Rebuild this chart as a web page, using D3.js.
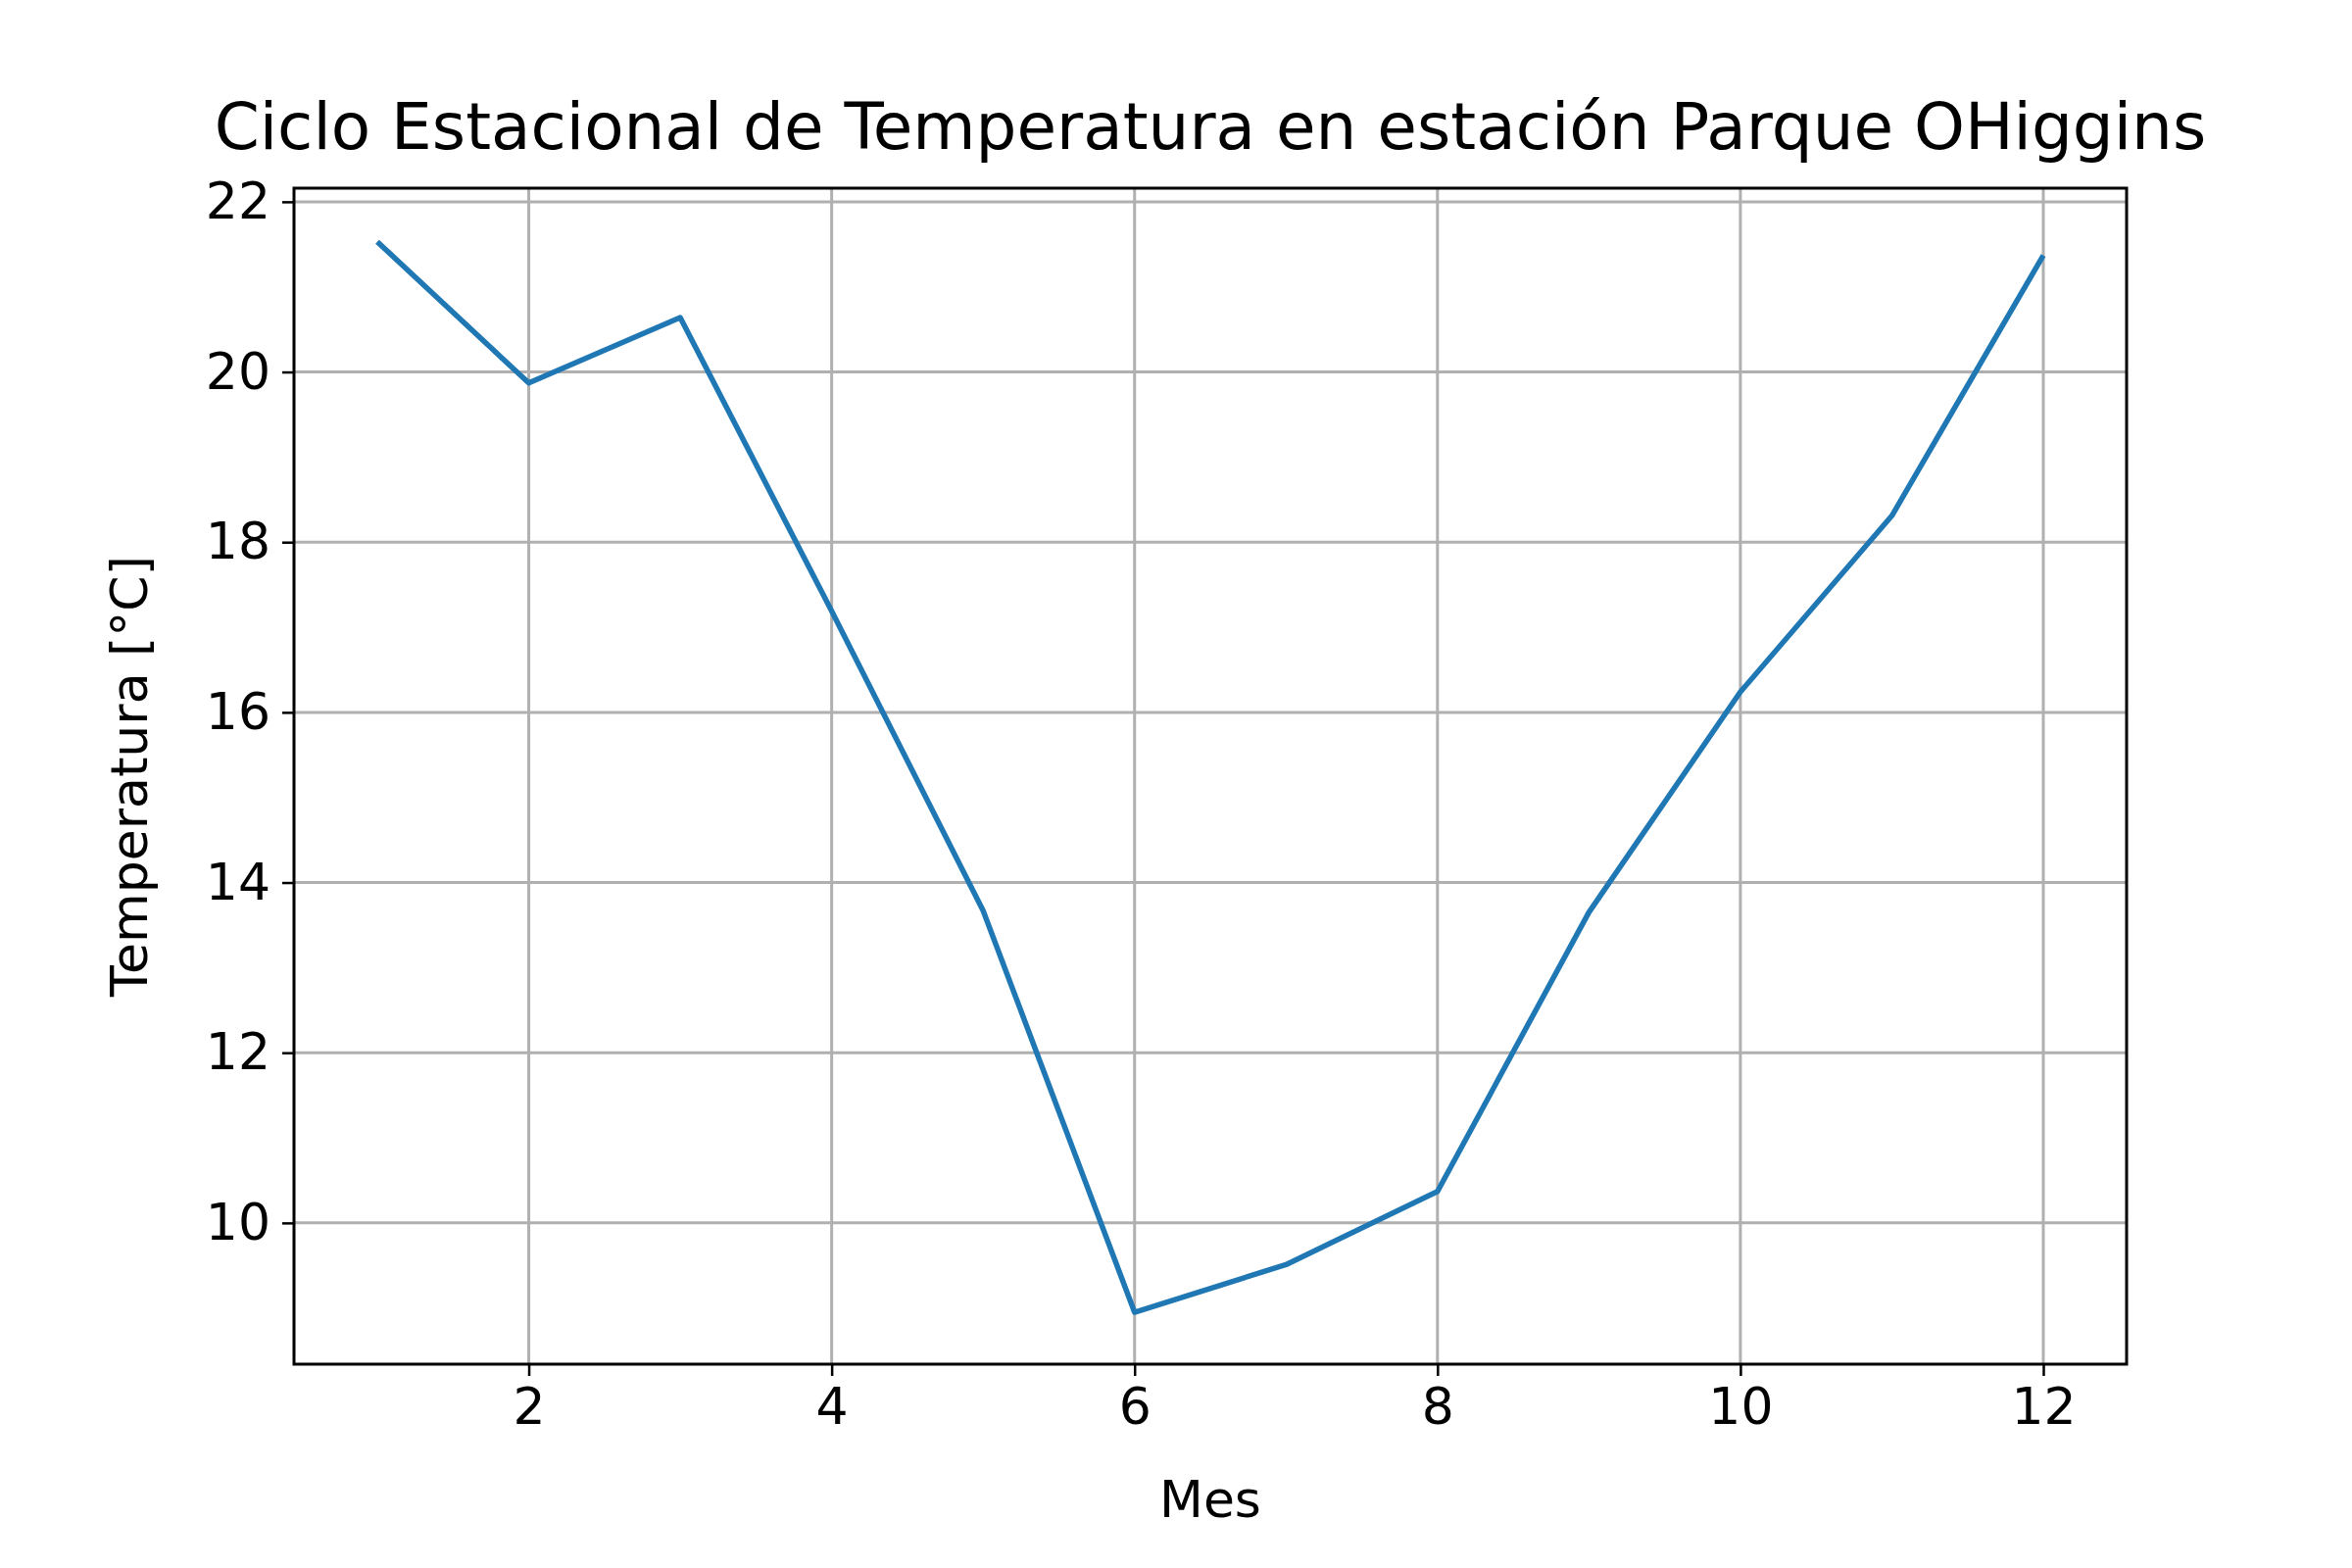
<!DOCTYPE html>
<html><head><meta charset="utf-8">
<script src="https://cdn.jsdelivr.net/npm/d3@7"></script>
<style>body{margin:0;background:#fff}text{font-family:"DejaVu Sans",sans-serif}</style>
</head><body><div id="chart"></div>
<script>
const months = [1,2,3,4,5,6,7,8,9,10,11,12]
const temps = [21.53,19.87,20.64,17.19,13.67,8.95,9.51,10.37,13.65,16.24,18.31,21.37]
const xTicks = [2,4,6,8,10,12]
const yTicks = [10,12,14,16,18,20,22]

const width = 2400, height = 1600
const m = {left: 300, right: 2400-2170, top: 192, bottom: 1600-1392}
const svg = d3.select('#chart').append('svg').attr('width', width).attr('height', height)

const x = d3.scaleLinear().domain([0.45, 12.55]).range([m.left, width - m.right])
const y = d3.scaleLinear().domain([8.34, 22.16]).range([height - m.bottom, m.top])

// grid
svg.append('g').selectAll('line').data(xTicks).join('line')
    .attr('x1', d => x(d)).attr('x2', d => x(d)).attr('y1', m.top).attr('y2', height - m.bottom)
    .attr('stroke', '#b0b0b0').attr('stroke-width', 3)
svg.append('g').selectAll('line').data(yTicks).join('line')
    .attr('y1', d => y(d)).attr('y2', d => y(d)).attr('x1', m.left).attr('x2', width - m.right)
    .attr('stroke', '#b0b0b0').attr('stroke-width', 3)

const line = d3.line().x((d, i) => x(months[i])).y(d => y(d))
svg.append('path').datum(temps).attr('d', line).attr('fill', 'none')
    .attr('stroke', '#1f77b4').attr('stroke-width', 5.5).attr('stroke-linejoin', 'round')

const xAxis = svg.append('g').attr('transform', `translate(0,${height - m.bottom})`)
    .call(d3.axisBottom(x).tickValues(xTicks).tickSize(12).tickPadding(12))
const yAxis = svg.append('g').attr('transform', `translate(${m.left},0)`)
    .call(d3.axisLeft(y).tickValues(yTicks).tickSize(12).tickPadding(12))
for (const a of [xAxis, yAxis]) {
    a.select('.domain').remove()
    a.selectAll('line').attr('stroke', '#000').attr('stroke-width', 2.5)
    a.selectAll('text').attr('font-size', 52).attr('font-family', '"DejaVu Sans",sans-serif').attr('fill', '#000')
}
svg.append('rect').attr('x', m.left).attr('y', m.top)
    .attr('width', width - m.left - m.right).attr('height', height - m.top - m.bottom)
    .attr('fill', 'none').attr('stroke', '#000').attr('stroke-width', 3)

svg.append('text').attr('x', (m.left + width - m.right) / 2).attr('y', 152)
    .attr('text-anchor', 'middle').attr('font-size', 66).text('Ciclo Estacional de Temperatura en estación Parque OHiggins')
svg.append('text').attr('x', (m.left + width - m.right) / 2).attr('y', 1548)
    .attr('text-anchor', 'middle').attr('font-size', 52).text('Mes')
svg.append('text').attr('transform', `translate(150,${(m.top + height - m.bottom) / 2}) rotate(-90)`)
    .attr('text-anchor', 'middle').attr('font-size', 52).text('Temperatura [°C]')
</script></body></html>
